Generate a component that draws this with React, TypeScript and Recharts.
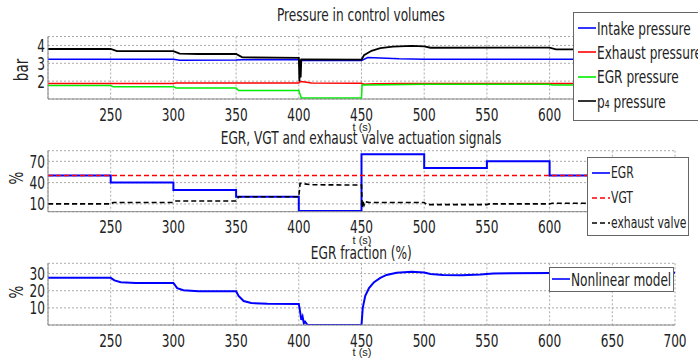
import { CartesianGrid, Legend, Line, LineChart, XAxis, YAxis } from 'recharts';

const FONT = "'DejaVu Sans Condensed', 'DejaVu Sans', sans-serif";
const SX = 0.75; // horizontal squeeze to get the tall narrow look of the original font

// time axis
const xTicks = [250, 300, 350, 400, 450, 500, 550, 600, 650, 700];

// panel 1: pressures (bar), [t, value]
const intakePressure: [number, number][] = [
  [200, 3.22], [300, 3.22], [305, 3.17], [350, 3.18], [355, 3.2], [400, 3.2], [402, 3.16],
  [450, 3.16], [455, 3.32], [465, 3.3], [480, 3.25], [500, 3.22], [700, 3.22],
];
const exhaustPressure: [number, number][] = [
  [200, 1.87], [300, 1.87], [302, 1.9], [400, 1.9], [401, 1.98], [405, 1.95], [410, 1.9],
  [450, 1.88], [452, 1.83], [460, 1.85], [480, 1.87], [700, 1.87],
];
const egrPressure: [number, number][] = [
  [200, 1.75], [250, 1.75], [252, 1.69], [300, 1.69], [302, 1.62], [350, 1.62], [352, 1.48],
  [400, 1.48], [402, 1.05], [450, 1.05], [450.5, 1.78], [470, 1.8], [500, 1.83], [600, 1.83],
  [602, 1.78], [700, 1.78],
];
const p4Pressure: [number, number][] = [
  [200, 3.8], [250, 3.8], [255, 3.68], [300, 3.68], [305, 3.54], [320, 3.52], [350, 3.52],
  [355, 3.33], [400, 3.3], [400.5, 2.0], [401, 3.2], [401.5, 2.2], [402, 3.22], [450, 3.2],
  [452, 3.45], [458, 3.7], [465, 3.85], [475, 3.93], [490, 3.97], [500, 3.95], [505, 3.87],
  [600, 3.88], [605, 3.78], [700, 3.78],
];

// panel 2: actuation signals (%)
const egrSignal: [number, number][] = [
  [200, 50], [250, 50], [250, 40], [300, 40], [300, 29.5], [350, 29.5], [350, 20], [400, 20],
  [400, 0], [450, 0], [450, 80], [500, 80], [500, 60.5], [550, 60.5], [550, 70], [600, 70],
  [600, 50], [700, 50],
];
const vgtSignal: [number, number][] = [[200, 50], [700, 50]];
const exhaustValve: [number, number][] = [
  [200, 10], [250, 10], [252, 12], [300, 12], [302, 14], [350, 14], [352, 20], [400, 20],
  [401, 39], [410, 37], [450, 36.5], [450.5, 5], [451, 15], [452, 8], [453, 13], [456, 12],
  [500, 12], [502, 9], [550, 9], [552, 10], [600, 10], [602, 11], [700, 11],
];

// panel 3: EGR fraction (%)
const egrFraction: [number, number][] = [
  [200, 27.5], [250, 27.5], [253, 26], [258, 25], [270, 24.5], [300, 24.5], [303, 21.5],
  [308, 20.3], [320, 19.7], [350, 19.7], [352, 17], [356, 14], [362, 12.8], [375, 12.4],
  [400, 12.3], [401, 8], [402, 3], [403, 5], [404, 1], [405, 2], [407, 0], [450, 0],
  [451, 10], [453, 17], [456, 21.5], [460, 25], [465, 27.5], [470, 29.2], [478, 30.5],
  [490, 31], [500, 30.6], [505, 29.8], [515, 29.2], [530, 29.1], [545, 29.5], [555, 30.1],
  [600, 30.3], [700, 30.5],
];

const pts = (pairs: [number, number][]) => pairs.map(([t, v]) => ({ t, v }));

const BORDER = '#888';

const XTick = ({ x, y, payload }: any) => (
  <g transform={`translate(${x},${y})`}>
    <text transform={`scale(${SX},1)`} textAnchor="middle" dy="0.71em" fontSize={18} fill="#222" fontFamily={FONT}>
      {payload.value}
    </text>
  </g>
);

const YTick = ({ x, y, payload }: any) => (
  <g transform={`translate(${x},${y})`}>
    <text transform={`scale(${SX},1)`} textAnchor="end" dy="0.36em" fontSize={18} fill="#222" fontFamily={FONT}>
      {payload.value}
    </text>
  </g>
);

function BoxLegend(props: any) {
  const { payload = [], rowH = 25, pad = '2px 4px', fs = 18 } = props;
  return (
    <div style={{ border: '1px solid #666', background: '#fff', padding: pad }}>
      {payload.map((e: any) => (
        <div key={e.value} style={{ display: 'flex', alignItems: 'center', height: rowH }}>
          <svg width={18} height={4} style={{ flex: 'none' }}>
            <line x1={0} y1={2} x2={18} y2={2} stroke={e.color} strokeWidth={1.6}
              strokeDasharray={e.payload?.strokeDasharray} />
          </svg>
          <span style={{ marginLeft: 1, fontSize: fs, fontFamily: FONT, color: '#222', whiteSpace: 'nowrap',
            display: 'inline-block', transform: `scaleX(${SX})`, transformOrigin: 'left center' }}>
            {e.value}
          </span>
        </div>
      ))}
    </div>
  );
}

function Panel({ top, height, mTop, mBottom, domain, yTicks, legendPos, rowH, pad, fs, children }: any) {
  return (
    <div style={{ position: 'absolute', left: 0, top }}>
      <LineChart width={698} height={height} margin={{ top: mTop, right: 23, bottom: mBottom, left: 0 }}>
        <CartesianGrid stroke="#aaa" strokeDasharray="2 2" />
        <XAxis dataKey="t" type="number" domain={[200, 700]} ticks={xTicks} allowDataOverflow interval={0}
          height={20} tickLine={false} tickSize={0} tickMargin={9} tick={<XTick />}
          axisLine={{ stroke: BORDER }} />
        <XAxis xAxisId="top" orientation="top" type="number" domain={[200, 700]} height={0}
          tick={false} tickLine={false} axisLine={{ stroke: BORDER }} />
        <YAxis type="number" domain={domain} ticks={yTicks} allowDataOverflow width={48} interval={0}
          tickLine={false} tickSize={0} tickMargin={3} tick={<YTick />} axisLine={{ stroke: BORDER }} />
        <YAxis yAxisId="r" orientation="right" type="number" domain={[0, 1]} width={0}
          tick={false} tickLine={false} axisLine={{ stroke: BORDER }} />
        {children}
        <Legend layout="vertical" align="center" verticalAlign="middle" itemSorter={() => 0}
          wrapperStyle={{ left: legendPos[0], top: legendPos[1], width: legendPos[2], height: 'auto' }}
          content={(p: any) => <BoxLegend {...p} rowH={rowH} pad={pad} fs={fs} />} />
      </LineChart>
    </div>
  );
}

const Squeezed = ({ text, size }: { text: string; size: number }) => (
  <span style={{ display: 'inline-block', transform: `scaleX(${SX})`, fontSize: size, whiteSpace: 'nowrap' }}>{text}</span>
);

const Title = ({ y, text }: { y: number; text: string }) => (
  <div style={{ position: 'absolute', left: 61, width: 600, top: y - 11, lineHeight: '22px',
    textAlign: 'center', fontFamily: FONT, color: '#222' }}><Squeezed text={text} size={18} /></div>
);

const YLabel = ({ x, y, text }: { x: number; y: number; text: string }) => (
  <div style={{ position: 'absolute', left: x, top: y, transform: `translate(-50%, -50%) rotate(-90deg) scaleX(${SX})`,
    fontSize: 20, fontFamily: FONT, color: '#222', lineHeight: '20px', whiteSpace: 'nowrap' }}>{text}</div>
);

const TLabel = ({ y }: { y: number }) => (
  <div style={{ position: 'absolute', left: 312, width: 100, top: y - 7, lineHeight: '14px',
    textAlign: 'center', fontSize: 11, fontFamily: "'Liberation Sans', Arial, sans-serif", color: '#222' }}>t (s)</div>
);

export default function App() {
  const common = { dot: false, activeDot: false, isAnimationActive: false, type: 'linear' as const, dataKey: 'v' };
  return (
    <div style={{ position: 'fixed', left: 0, top: 0, width: 698, height: 363, background: '#fff', overflow: 'hidden' }}>
      <Panel top={0} height={125} mTop={36.5} mBottom={6} domain={[1, 4.5]} yTicks={[2, 3, 4]}
        legendPos={[573, 12, 130]} rowH={24.3} pad="3px 4px 7px" fs={18}>
        <Line {...common} data={pts(intakePressure)} name="Intake pressure" stroke="#0000ff" strokeWidth={1.5} />
        <Line {...common} data={pts(exhaustPressure)} name="Exhaust pressure" stroke="#ff0000" strokeWidth={1.5} />
        <Line {...common} data={pts(egrPressure)} name="EGR pressure" stroke="#00ee00" strokeWidth={1.5} />
        <Line {...common} data={pts(p4Pressure)} name="p₄ pressure" stroke="#000" strokeWidth={1.8} />
      </Panel>
      <Panel top={125} height={120} mTop={25.7} mBottom={13.3} domain={[-1, 85]} yTicks={[10, 40, 70]}
        legendPos={[587, 32, 102]} rowH={25} pad="2px 4px 0" fs={16}>
        <Line {...common} data={pts(egrSignal)} name="EGR" stroke="#0000ff" strokeWidth={2} />
        <Line {...common} data={pts(vgtSignal)} name="VGT" stroke="#ff0000" strokeWidth={1.6} strokeDasharray="5 3" />
        <Line {...common} data={pts(exhaustValve)} name="exhaust valve" stroke="#000" strokeWidth={1.6} strokeDasharray="5 3" />
      </Panel>
      <Panel top={245} height={118} mTop={18.3} mBottom={18} domain={[0, 36]} yTicks={[10, 20, 30]}
        legendPos={[549, 21.7, 125]} rowH={23} pad="0 2px" fs={18}>
        <Line {...common} data={pts(egrFraction)} name="Nonlinear  model" stroke="#0000ff" strokeWidth={2} />
      </Panel>
      <Title y={15} text="Pressure in control volumes" />
      <Title y={138} text="EGR, VGT and exhaust valve actuation signals" />
      <Title y={253} text="EGR fraction (%)" />
      <YLabel x={21} y={70} text="bar" />
      <YLabel x={16} y={178} text="%" />
      <YLabel x={16} y={292} text="%" />
      <TLabel y={127} />
      <TLabel y={240} />
      <TLabel y={352} />
    </div>
  );
}
